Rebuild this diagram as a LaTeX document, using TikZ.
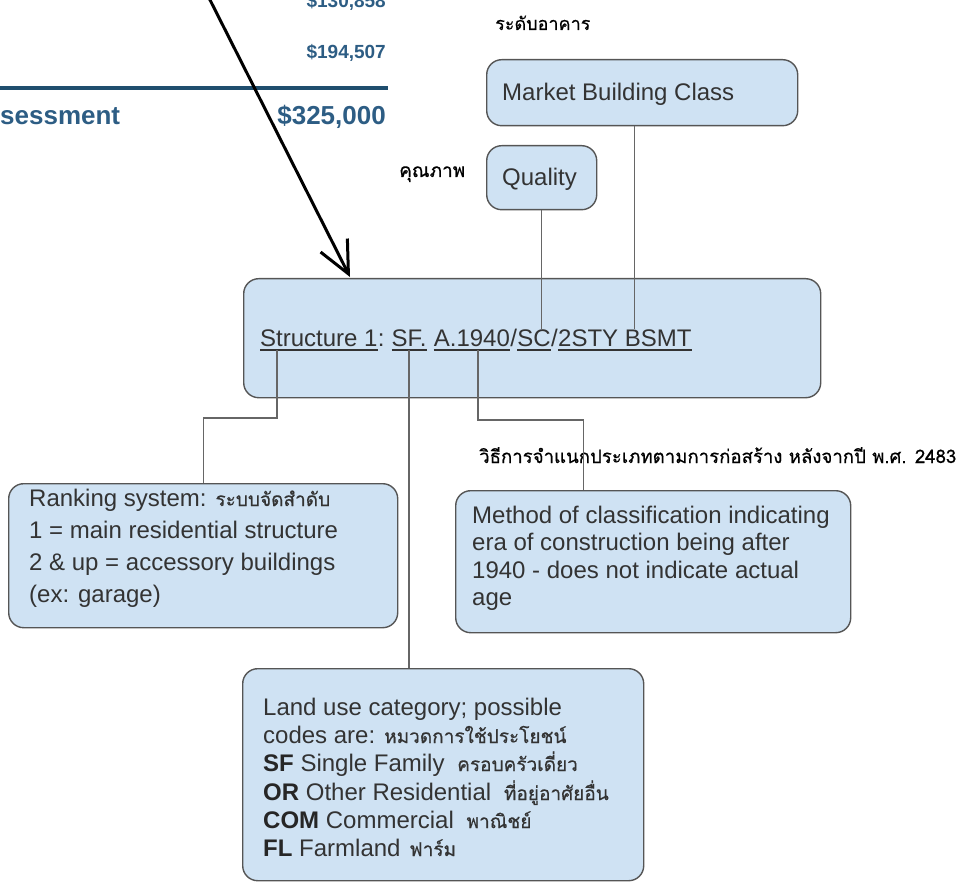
\documentclass[tikz,border=0pt]{standalone}
\usepackage{fontspec}
\setmainfont{Liberation Sans}
\newfontfamily\thaifont[Script=Thai,FakeBold=0.6]{Loma}
\usetikzlibrary{arrows.meta,calc}
\definecolor{boxfill}{HTML}{CFE2F3}
\definecolor{boxline}{HTML}{555555}
\definecolor{conncol}{HTML}{666666}
\definecolor{txt}{HTML}{333333}
\definecolor{tblue}{HTML}{2D5D84}
\definecolor{lblue}{HTML}{1F4E6E}
\newcommand{\thaitx}[1]{{\thaifont\fontsize{19}{20}\selectfont #1}}
\begin{document}
\begin{tikzpicture}[x=1pt,y=-1pt,
  box/.style={draw=boxline, line width=1.4pt, fill=boxfill, rounded corners=15pt, inner sep=0, anchor=north west},
  conn/.style={draw=conncol, line width=1.3pt},
  lt/.style={anchor=base west, inner sep=0, text=txt, font=\fontsize{24}{28}\selectfont},
  thl/.style={anchor=base west, inner sep=0, text=black, font=\thaifont\fontsize{#1}{20}\selectfont},
  tbl/.style={inner sep=0, text=tblue, font=\bfseries\fontsize{#1}{#1}\selectfont},
  uline/.style={draw=txt, line width=1.4pt}]
\useasboundingbox (0,0) rectangle (960,882);
\clip (0,0) rectangle (960,882);

% --- cropped table at top left
\node[tbl=19, anchor=base east] (v1) at (386,8) {\$130,858};
\node[tbl=19, anchor=base east] (v2) at (386,59) {\$194,507};
\coordinate (ruleL) at (0,88);
\coordinate (ruleR) at (388,88);
\draw[lblue, line width=4pt] (ruleL) -- (ruleR);
\node[tbl=26, anchor=base west] (tlab) at (0,125) {sessment};
\node[tbl=26, anchor=base east] (tval) at (386,125) {\$325,000};

% --- Thai labels
\node[thl=18] (thmbc) at (495,30) {ระดับอาคาร};
\node[thl=19] (thq) at (399,177) {คุณภาพ};

% --- boxes
\node[box, minimum width=311pt, minimum height=66pt] (mbc) at (486,59) {};
\node[lt] (mbct) at (502,101) {Market Building Class};
\node[box, minimum width=110pt, minimum height=64pt] (qual) at (486,145) {};
\node[lt] (qualt) at (502,186) {Quality};

\node[box, minimum width=577pt, minimum height=119pt] (main) at (243,278) {};
\node[box, minimum width=389pt, minimum height=144pt] (rank) at (8,483) {};
\node[box, minimum width=395pt, minimum height=142pt] (meth) at (455,490) {};
\node[box, minimum width=401pt, minimum height=212pt] (land) at (242,668) {};

% --- main text
\node[lt] (s1) at (260,346) {Structure 1};
\node[lt] (col) at (s1.base east) {:\kern0.278em};
\node[lt] (sf) at (col.base east) {SF.};
\node[lt] (sp1) at (sf.base east) {\kern0.278em};
\node[lt] (a19) at (sp1.base east) {A.1940};
\node[lt] (sl1) at (a19.base east) {/};
\node[lt] (sc) at (sl1.base east) {SC};
\node[lt] (sl2) at (sc.base east) {/};
\node[lt] (bs) at (sl2.base east) {2STY BSMT};
\foreach \p in {s1,sf,a19,sc,bs}
  \draw[uline] ([yshift=-4pt]\p.base west) -- ([yshift=-4pt]\p.base east);

% --- ranking text
\node[lt] (r1) at (29,506) {Ranking system: \thaitx{ระบบจัดสำดับ}};
\node[lt] (r2) at (29,538) {1 = main residential structure};
\node[lt] (r3) at (29,570) {2 \& up = accessory buildings};
\node[lt] (r4) at (29,602) {(ex: garage)};

% --- method text
\node[thl=18.6] (thm) at (479,463) {วิธีการจำแนกประเภทตามการก่อสร้าง หลังจากปี พ.ศ. 2483};
\node[lt] (m1) at (472,523) {Method of classification indicating};
\node[lt] (m2) at (472,550.5) {era of construction being after};
\node[lt] (m3) at (472,578) {1940 - does not indicate actual};
\node[lt] (m4) at (472,605.5) {age};

% --- land use text
\node[lt] (l1) at (263,715) {Land use category; possible};
\node[lt] (l2) at (263,743) {codes are: \thaitx{หมวดการใช้ประโยชน์}};
\node[lt] (l3) at (263,771) {\textcolor{black!85}{\textbf{SF}} Single Family\hspace{6pt} \thaitx{ครอบครัวเดี่ยว}};
\node[lt] (l4) at (263,800) {\textcolor{black!85}{\textbf{OR}} Other Residential\hspace{6pt} \thaitx{ที่อยู่อาศัยอื่น}};
\node[lt] (l5) at (263,828) {\textcolor{black!85}{\textbf{COM}} Commercial\hspace{6pt} \thaitx{พาณิชย์}};
\node[lt] (l6) at (263,856) {\textcolor{black!85}{\textbf{FL}} Farmland\hspace{2pt} \thaitx{ฟาร์ม}};

% --- connectors
\draw[conn] (qual.south) -- (qual.south |- sc.north);
\coordinate (mbcx) at ([xshift=-7.5pt]mbc.south);
\draw[conn] (mbcx) -- (mbcx |- bs.north);

\coordinate (s1b) at ([xshift=17pt,yshift=-4pt]s1.base west);
\coordinate (e1) at ($(rank.north)+(0,-65)$);
\draw[conn] (s1b) |- (e1) -- (rank.north);

\coordinate (sfb) at ([yshift=-4pt]sf.base);
\draw[conn] (sfb) -- (sfb |- land.north);

\coordinate (a19b) at ([xshift=6pt,yshift=-4pt]a19.base);
\coordinate (mtop) at ([xshift=-69.5pt]meth.north);
\coordinate (e2) at ($(mtop)+(0,-70)$);
\draw[conn] (a19b) |- (e2) -- (mtop);

% --- big arrow
\coordinate (arrS) at (206,-8);
\coordinate (arrT) at (350,277);
\draw[black, line width=3pt, -{Straight Barb[length=32pt,width=30pt]}] (arrS) -- (arrT);
\end{tikzpicture}
\end{document}
